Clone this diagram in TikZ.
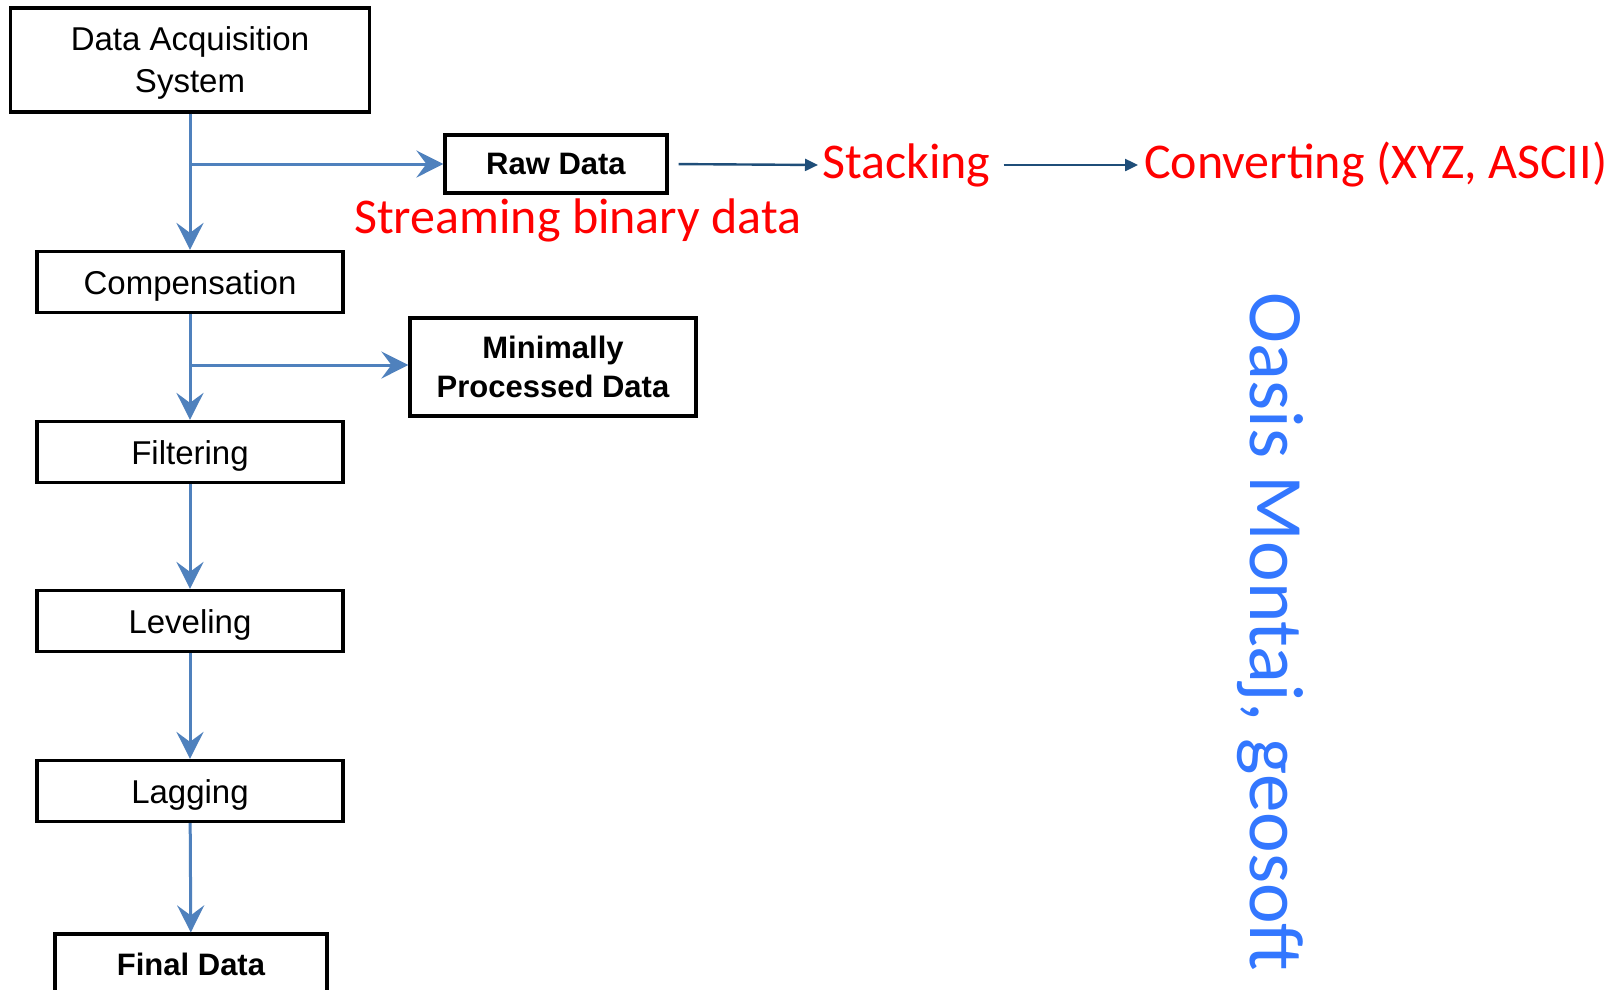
\documentclass[tikz,border=0pt]{standalone}
\usepackage{fontspec}
\setmainfont{Liberation Sans}
\newfontfamily\calfont{Carlito}
\usetikzlibrary{arrows.meta}
\definecolor{lineblue}{HTML}{4F81BD}
\definecolor{darkblue}{HTML}{1F4E79}
\definecolor{oasisblue}{HTML}{3377FF}
\definecolor{redtext}{HTML}{FF0000}
\begin{document}
\begin{tikzpicture}[x=1pt,y=-1pt,
  box/.style={draw=black, line width=3.2pt, inner sep=0pt, align=center,
    font=\fontsize{33}{42}\selectfont},
  onebox/.style={box, text height=27.5pt, text depth=3.5pt},
  boldbox/.style={box, font=\fontsize{31}{39}\selectfont\bfseries},
  flow/.style={draw=lineblue, line width=3pt, -{Stealth[length=27pt,width=27pt,inset=10pt]}},
  thinarrow/.style={draw=darkblue, line width=2.4pt, -{Triangle[length=13pt,width=12pt]}},
  redlbl/.style={text=redtext, inner sep=0pt, font=\calfont\fontsize{50}{60}\selectfont}]
\useasboundingbox (0,0) rectangle (1621,989);
\fill[white] (0,0) rectangle (1621,989);

\node[draw=black, line width=3.2pt, inner sep=0pt, font=\fontsize{33}{42}\selectfont,
  minimum width=359pt, minimum height=104pt] (daq) at (190,60)
  {\raisebox{-3pt}[\height][\depth]{\begin{tabular}{@{}c@{}}Data Acquisition\\System\end{tabular}}};
\node[boldbox, minimum width=222pt, minimum height=58pt] (raw) at (556,164) {Raw Data};
\node[onebox, minimum width=306pt, minimum height=61pt] (comp) at (190,282) {Compensation};
\node[boldbox, minimum width=286pt, minimum height=98pt] (mpd) at (553,367) {Minimally\\Processed Data};
\node[onebox, minimum width=306pt, minimum height=61pt] (filt) at (190,452) {Filtering};
\node[onebox, minimum width=306pt, minimum height=61pt] (lev) at (190,621) {Leveling};
\node[onebox, minimum width=306pt, minimum height=61pt] (lag) at (190,791) {Lagging};
\node[boldbox, minimum width=272pt, minimum height=60pt] (fin) at (191,964) {Final Data};

\coordinate (b1) at (190,164);
\coordinate (b2) at (190,365);

\draw[flow] (daq) -- (comp);
\draw[flow] (b1) -- (raw.west |- b1);
\draw[flow] (comp) -- (filt);
\draw[flow] (b2) -- (mpd.west |- b2);
\draw[flow] (filt) -- (lev);
\draw[flow] (lev) -- (lag);
\draw[flow] (lag) -- (fin);

\node[redlbl, anchor=west] (stream) at (354,220) {Streaming binary data};
\node[redlbl, anchor=west] (stack) at (822,165) {Stacking};
\node[redlbl, anchor=west] (conv) at (1144,165) {Converting (XYZ, ASCII)};

\draw[thinarrow, shorten <=10pt, shorten >=4pt] (raw.east) -- (stack.west);
\draw[thinarrow, shorten <=13pt, shorten >=6pt] (stack.east) -- (conv.west);

\node[text=oasisblue, inner sep=0pt, anchor=base, rotate=-90,
  font=\calfont\fontsize{77}{90}\selectfont] (oasis) at (1250,632) {Oasis Montaj, geosoft};
\end{tikzpicture}
\end{document}
